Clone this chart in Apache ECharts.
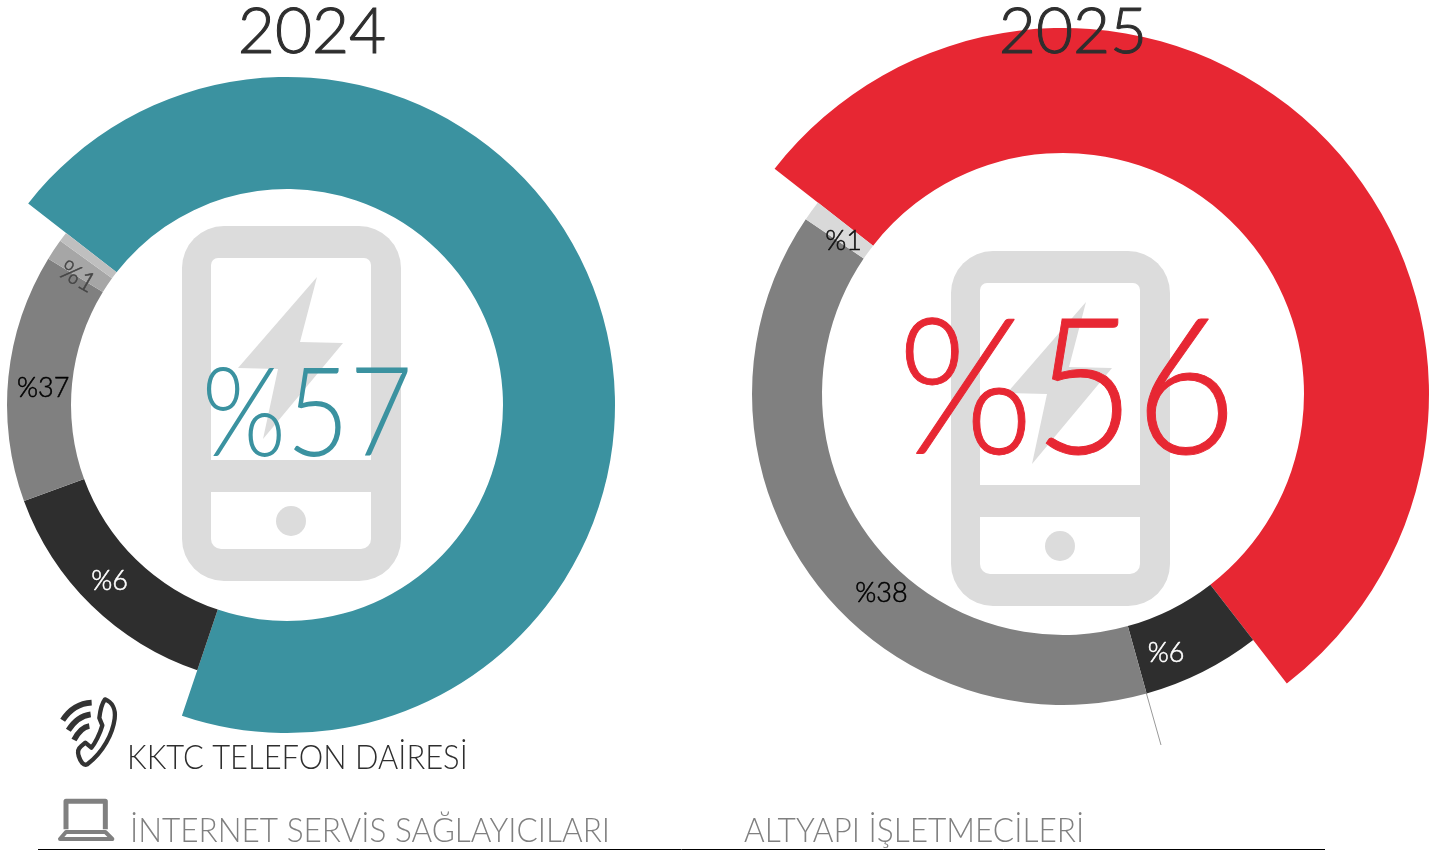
<!DOCTYPE html>
<html>
<head>
<meta charset="UTF-8" />
<title>KKTC pazar payi</title>
<script src="https://cdn.jsdelivr.net/npm/echarts@6/dist/echarts.min.js"></script>
<style type="text/css">
html, body{
	margin: 0px;
	background: #fff;
}
#chart{
	width: 1451px;
	height: 850px;
}
</style>
</head>
<body>
<div id="chart"></div>

<script type="text/javascript">

var TEAL = '#3b92a0', RED = '#e72733', DARK = '#2e2e2e', GRAY = '#808080';

// arc sizes in degrees (the 2024 ring is not drawn to its printed percentages)
var years = ['2024', '2025'];
var names = ['KKTC TELEFON DAİRESİ', 'İNTERNET SERVİS SAĞLAYICILARI', 'ALTYAPI İŞLETMECİLERİ'];
var arcs2024 = [251, 51.3, 51.6, 4.4, 2];    // lead, dark, gray, %1, sliver
var arcs2025 = [194.3, 22.1, 139.8, 3.8];    // lead, dark, gray, %1
var labels2024 = ['%57', '%6', '%37', '%1'];
var labels2025 = ['%56', '%6', '%38', '%1'];

var FONT = 'Lato, "Open Sans", sans-serif';

// ring with a thick lead slice, drawn as two pies sharing a centre
function ring(cx, cy, rIn, rLead, rRest, startTop, arcs, labels, colors, labelColors, nudges){
	var blank = {itemStyle: {color: 'transparent'}, label: {show: false}, emphasis: {disabled: true}};
	var restSum = 0;
	var rest = [];
	for(var i = 1; i < arcs.length; i++){
		restSum += arcs[i];
		rest.push({
			value: arcs[i],
			itemStyle: {color: colors[i]},
			label: {
				show: !!labels[i],
				formatter: labels[i] || '',
				position: 'inside',
				color: labelColors[i - 1],
				textBorderColor: labelColors[i - 1],
				textBorderWidth: 0.5,
				fontFamily: FONT,
				fontWeight: 300,
				fontSize: 27
			}
		});
	}
	return [{
		type: 'pie',
		silent: true,
		animation: false,
		center: [cx, cy],
		radius: [rIn, rLead],
		startAngle: 90 - startTop,
		clockwise: true,
		label: {show: false},
		labelLine: {show: false},
		data: [{value: arcs[0], itemStyle: {color: colors[0]}}, Object.assign({value: restSum}, blank)]
	}, {
		type: 'pie',
		silent: true,
		animation: false,
		center: [cx, cy],
		radius: [rIn, rRest],
		startAngle: 90 - startTop,
		clockwise: true,
		labelLine: {show: false},
		labelLayout: function(params){
			var n = nudges[params.dataIndex - 1];
			return n ? {dx: n[0], dy: n[1], rotate: n[2] || 0} : {};
		},
		data: [Object.assign({value: arcs[0]}, blank)].concat(rest)
	}];
}

// phone icon, x/y = its top left corner
function phone(x, y){
	return {
		type: 'group',
		x: x,
		y: y,
		silent: true,
		children: [
			{type: 'rect', shape: {x: 0, y: 0, width: 219, height: 355, r: 42}, style: {fill: '#dcdcdc'}},
			{type: 'rect', shape: {x: 29, y: 32, width: 160, height: 202, r: [7, 7, 0, 0]}, style: {fill: '#fff'}},
			{type: 'rect', shape: {x: 29, y: 266, width: 160, height: 57, r: [0, 0, 10, 10]}, style: {fill: '#fff'}},
			{type: 'circle', shape: {cx: 109, cy: 295, r: 15}, style: {fill: '#dcdcdc'}},
			{type: 'polygon', shape: {points: [[135, 51], [118, 116], [161, 117], [81, 213], [96, 143], [56, 142]]}, style: {fill: '#dcdcdc'}}
		]
	};
}

// text anchored on its centre, squeezed to the reference width
function bigText(text, x, y, size, color, squeeze, weight){
	return {
		type: 'text',
		x: x,
		y: y,
		z: 10,
		scaleX: squeeze,
		silent: true,
		style: {
			text: text,
			fill: color,
			stroke: weight ? color : null,
			lineWidth: weight || 0,
			font: '300 ' + size + 'px ' + FONT,
			align: 'center',
			verticalAlign: 'middle'
		}
	};
}

function legendText(text, x, y, color, squeeze){
	return {
		type: 'text',
		x: x,
		y: y,
		z: 10,
		scaleX: squeeze,
		silent: true,
		style: {text: text, fill: color, font: '300 33px ' + FONT, align: 'left', verticalAlign: 'bottom'}
	};
}

// icons are traced at 3x, so they are scaled back down
var iconPaths = {
	handset: 'M165 22 C185 30 198 50 194 80 C188 125 160 180 112 217 C100 222 92 210 86 192 C82 178 84 170 92 164 L106 152 L124 167 C135 155 150 125 157 100 L148 78 C150 60 155 35 165 22 Z',
	waves: 'M125 32 Q70 35 38 85 M122 67 Q82 72 55 115 M118 102 Q92 106 72 144',
	laptopLid: 'M48 118 L48 34 L166 34 L166 118',
	laptopBase: 'M30 147 L48 126 L166 126 L187 147 Z'
};
Object.keys(iconPaths).forEach(function(name){
	echarts.graphic.registerShape(name, echarts.graphic.extendPath(iconPaths[name], {}));
});

function icon(x, y, name, color, width){
	return {
		type: name,
		x: x,
		y: y,
		scaleX: 1 / 3,
		scaleY: 1 / 3,
		silent: true,
		style: {fill: 'none', stroke: color, lineWidth: width, lineJoin: 'round'}
	};
}

var chart = echarts.init(document.getElementById('chart'), null, {renderer: 'canvas'});
chart.setOption({
	animation: false,
	series: [].concat(
		ring(287, 405, 216, 328, 280, 307.9, arcs2024, labels2024, [TEAL, DARK, GRAY, '#a6a6a6', '#bfbfbf'],
			['#fff', '#000', '#444'], [[-2, -3], [6, 8], [5, 10, -30]]),
		ring(1063, 394, 241, 366, 311, 308, arcs2025, labels2025, [RED, DARK, GRAY, '#d9d9d9'],
			['#fff', '#000', '#111'], [[-22, 10], [45, 36], [6, 12]])
	),
	graphic: [
		phone(182, 226),
		phone(951, 251),
		bigText(years[0], 312, 32, 64, DARK, 1, 1),
		bigText(years[1], 1073, 32, 64, DARK, 1, 1),
		bigText(labels2024[0], 307, 416, 125, TEAL, 0.87),
		bigText(labels2025[0], 1067, 392, 190, RED, 0.92, 1),
		legendText(names[0], 127, 775, DARK, 0.937),
		legendText(names[1], 130, 848, GRAY, 0.956),
		legendText(names[2], 744, 848, GRAY, 0.958),
		icon(50, 692, 'handset', '#333', 13),
		icon(50, 692, 'waves', '#333', 17),
		icon(50, 790, 'laptopLid', GRAY, 15),
		icon(50, 790, 'laptopBase', GRAY, 12),
		{type: 'line', silent: true, shape: {x1: 1146, y1: 692, x2: 1161, y2: 745}, style: {stroke: '#999', lineWidth: 1}},
		{type: 'line', silent: true, shape: {x1: 38, y1: 849.5, x2: 1325, y2: 849.5}, style: {stroke: '#000', lineWidth: 1}}
	]
});

</script>
</body>
</html>
